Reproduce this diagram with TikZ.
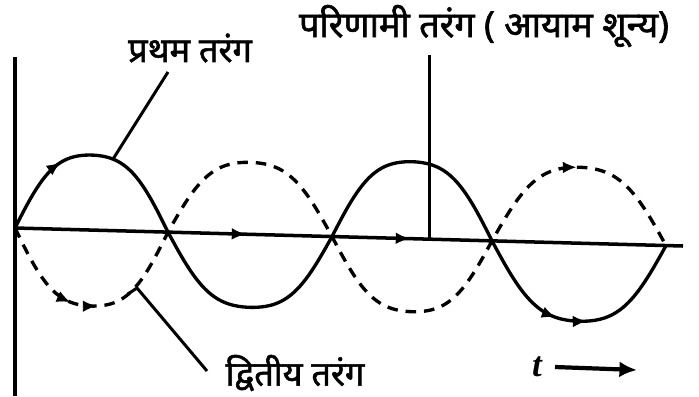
\documentclass[tikz,border=0pt]{standalone}
\usepackage{fontspec}
\newfontfamily\dev[Script=Devanagari,FakeBold=1.6]{Noto Sans}
\newfontfamily\tfont{Liberation Serif}
\usetikzlibrary{arrows.meta}
\begin{document}
\begin{tikzpicture}[x=0.02cm,y=-0.02cm,
  declare function={
    yax(\x)=228+0.027*(\x-15);
    hs(\a)=(sin(\a)+0.07*sin(3*\a))/0.93;
    sw(\x)=(\x<168) ? (75*hs((\x-15)/153*180)) : ((\x<332) ? (-73*hs((\x-168)/164*180)) : ((\x<492) ? (77*hs((\x-332)/160*180)) : (-78*hs((\x-492)/174*180))));
    dw(\x)=(\x<168) ? (76*hs((\x-15)/153*180)) : ((\x<332) ? (-72*hs((\x-168)/164*180)) : ((\x<492) ? (73*hs((\x-332)/160*180)) : (-76*hs((\x-492)/174*180))));
    ys(\x)=yax(\x)-sw(\x);
    yd(\x)=yax(\x)+dw(\x);
  },
  axisline/.style={line width=2pt},
  wave/.style={line width=1.9pt},
  dwave/.style={line width=1.9pt,dash pattern=on 6pt off 4.5pt},
  leader/.style={line width=1.7pt},
  tip/.style={-{Latex[length=7.5pt,width=6.5pt]},line width=0.5pt},
  lbl/.style={font=\dev\fontsize{19.5}{22}\selectfont,inner sep=0pt},
]
\useasboundingbox (0,0) rectangle (699,396);
% axes
\coordinate (vtop) at (15,57);
\coordinate (vbot) at (15,396);
\coordinate (hl) at (15,228);
\coordinate (hr) at (683,246);
\draw[axisline] (vtop) -- (vbot);
\draw[axisline] (hl) -- (hr);
% waves
\draw[wave] plot[domain=15:666,samples=300] (\x,{ys(\x)});
\draw[dwave] plot[domain=15:666,samples=300] (\x,{yd(\x)});
% arrows on axis
\draw[tip] (241,{yax(241)}) -- (245,{yax(245)});
\draw[tip] (405,{yax(405)}) -- (409,{yax(409)});
% arrows on solid wave
\draw[tip] (57,{ys(57)}) -- (60,{ys(60)});
\draw[tip] (552,{ys(552)}) -- (555,{ys(555)});
\draw[tip] (583,{ys(583)}) -- (586,{ys(586)});
% arrows on dashed wave
\draw[tip] (67,{yd(67)}) -- (70,{yd(70)});
\draw[tip] (93,{yd(93)}) -- (96,{yd(96)});
\draw[tip] (573,{yd(573)}) -- (576,{yd(576)});
% labels
\node[lbl] (first) at (190,48) {प्रथम तरंग};
\node[lbl,font=\dev\fontsize{20.5}{22}\selectfont] (result) at (484,26) {परिणामी तरंग ( आयाम शून्य)};
\node[lbl] (second) at (295,373) {द्वितीय तरंग};
\coordinate (f1) at (113,{ys(113)});
\coordinate (f2) at (168,72);
\draw[leader] (f1) -- (f2);
\coordinate (r1) at (429,55);
\coordinate (r2) at (429,{yax(429)});
\draw[leader] (r1) -- (r2);
\coordinate (s0) at (128,294);
\coordinate (s1) at (137,288);
\coordinate (s2) at (207,371);
\draw[leader] (s0) -- (s1) -- (s2);
\node[font=\tfont\bfseries\itshape\fontsize{20}{22}\selectfont,inner sep=0pt] (t) at (537,367) {t};
\coordinate (ta) at (555,367);
\coordinate (tb) at (637,370);
\draw[line width=2.4pt,-{Latex[length=10pt,width=9pt]}] (ta) -- (tb);
\end{tikzpicture}
\end{document}
